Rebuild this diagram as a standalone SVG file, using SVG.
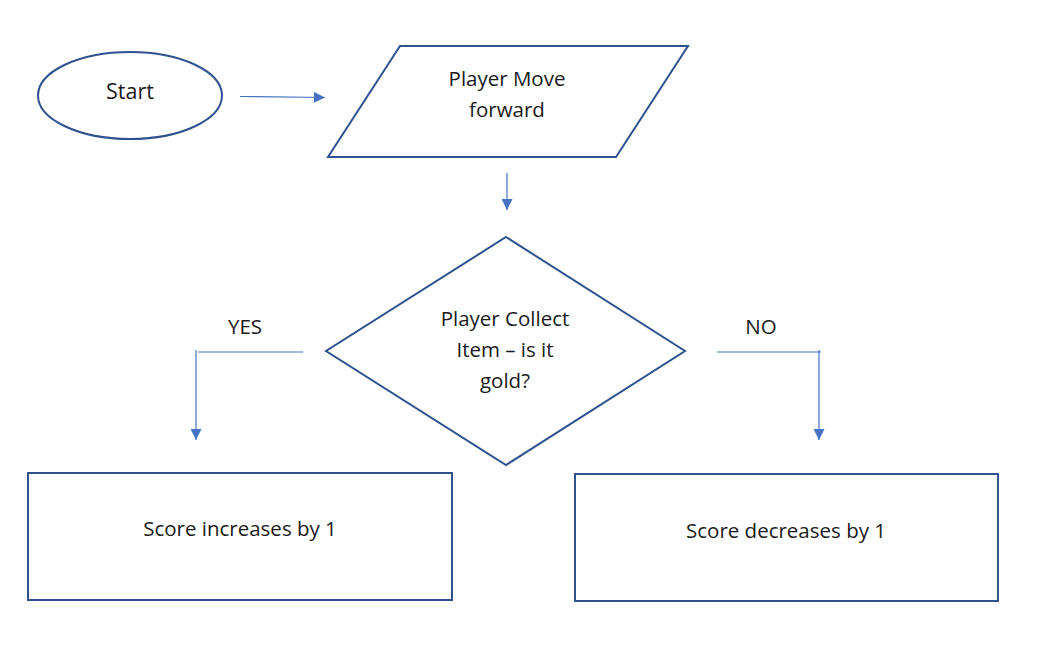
<svg xmlns="http://www.w3.org/2000/svg" width="1053" height="645" viewBox="0 0 1053 645">
<style>
.shape{fill:#ffffff;stroke:#2F528F;stroke-width:2}
.conn{fill:none;stroke:#4472C4;stroke-width:1.2}
text{font-family:"Open Sans","Noto Sans",sans-serif;font-size:20.5px;fill:#1a1a1a;text-anchor:middle}
</style>
<defs>
<marker id="ah" viewBox="0 0 10 10" refX="10" refY="5" markerWidth="11" markerHeight="11" markerUnits="userSpaceOnUse" orient="auto">
<path d="M0,0 L10,5 L0,10 z" fill="#4472C4"/>
</marker>
</defs>
<rect width="1053" height="645" fill="#ffffff"/>
<g id="start">
<ellipse class="shape" cx="130" cy="95.5" rx="92" ry="43.5"/>
<text x="130" y="99" style="font-size:21.5px">Start</text>
</g>
<g id="move">
<polygon class="shape" points="400,46 688,46 616,157 328,157"/>
<text x="507" y="86">Player Move</text>
<text x="507" y="117">forward</text>
</g>
<g id="decision">
<polygon class="shape" points="506,237 685,351 506,465 326,351"/>
<text x="505" y="326">Player Collect</text>
<text x="505" y="357">Item – is it</text>
<text x="505" y="388">gold?</text>
</g>
<g id="increase">
<rect class="shape" x="28" y="473" width="424" height="127"/>
<text x="240" y="536">Score increases by 1</text>
</g>
<g id="decrease">
<rect class="shape" x="575" y="474" width="423" height="127"/>
<text x="786" y="538">Score decreases by 1</text>
</g>
<g id="connectors">
<line class="conn" x1="240" y1="96.5" x2="325" y2="97.5" marker-end="url(#ah)"/>
<line class="conn" x1="507" y1="173" x2="507" y2="210" marker-end="url(#ah)"/>
<line class="conn" x1="303" y1="352" x2="198" y2="352"/>
<line class="conn" x1="196" y1="350" x2="196" y2="440" marker-end="url(#ah)"/>
<line class="conn" x1="717" y1="352" x2="821" y2="352"/>
<line class="conn" x1="819" y1="350" x2="819" y2="440" marker-end="url(#ah)"/>
<text x="245" y="334">YES</text>
<text x="761" y="334">NO</text>
</g>
</svg>
